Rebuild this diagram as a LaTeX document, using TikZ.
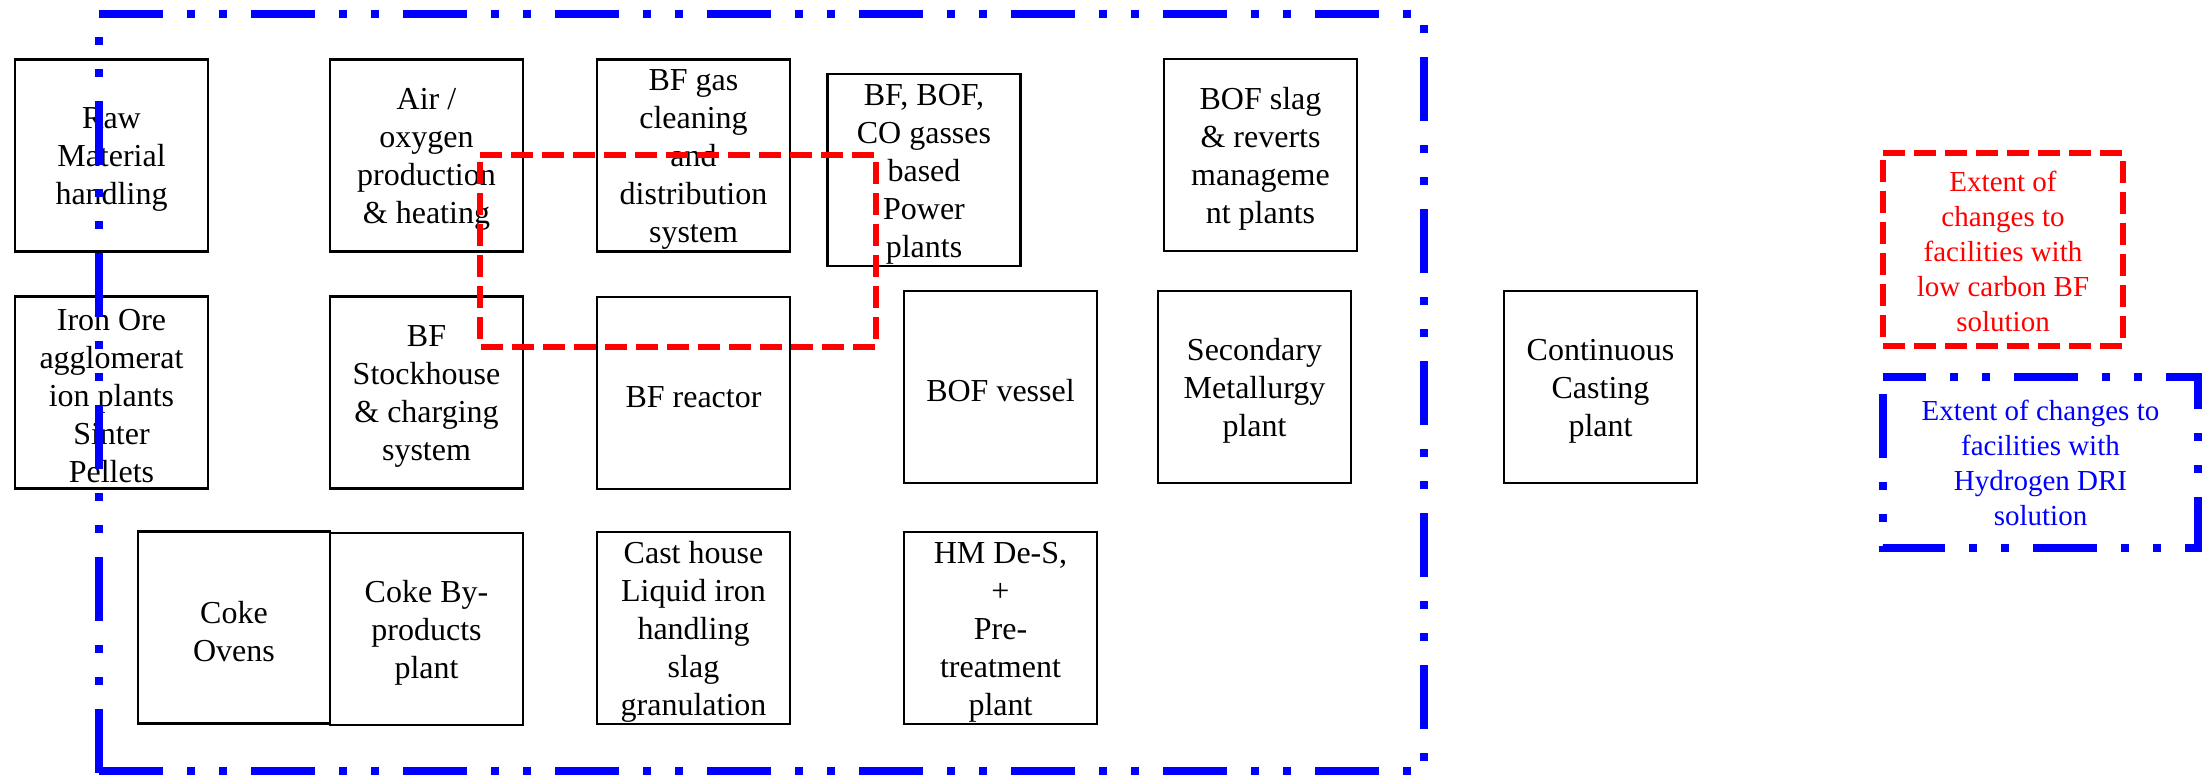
\documentclass[tikz,border=0pt]{standalone}
\usepackage{fontspec}
\setmainfont{Liberation Serif}
\begin{document}
\begin{tikzpicture}[x=1pt,y=-1pt,
  box/.style={draw=black, line width=2.5pt, inner sep=0pt,
    minimum width=193pt, minimum height=192pt},
  boxtext/.style={align=center, inner sep=0pt, font=\rmfamily\fontsize{32}{38}\selectfont},
  legtext/.style={align=center, inner sep=0pt, font=\rmfamily\fontsize{29}{35}\selectfont},
  hydro/.style={draw=blue, line width=7.5pt,
    dash pattern=on 64pt off 24pt on 8pt off 24pt on 8pt off 24pt, line join=miter},
  lowc/.style={draw=red, line width=6.5pt, dash pattern=on 22pt off 9pt, line join=miter}]
\useasboundingbox (0,0) rectangle (2208,776);

% process boxes
\node[box] (raw) at (111.5,155.5) {};
\node[box] (air) at (426.5,155.5) {};
\node[box] (bfgas) at (693.5,155.5) {};
\node[box] (bfbof) at (924,170) {};
\node[box] (bofslag) at (1260.5,155) {};
\node[box] (iron) at (111.5,392.5) {};
\node[box] (stock) at (426.5,392.5) {};
\node[box] (reactor) at (693.5,393) {};
\node[box] (bofv) at (1000.5,387) {};
\node[box] (secm) at (1254.5,387) {};
\node[box] (cc) at (1600.5,387) {};
\node[box, minimum width=192pt] (coke) at (234,627.5) {};
\node[box] (byprod) at (426.5,629) {};
\node[box] (cast) at (693.5,628) {};
\node[box] (hm) at (1000.5,628) {};

% box texts
\node[boxtext] (rawt) at ([yshift=-4pt]raw.center) {Raw\\Material\\handling};
\node[boxtext] (airt) at ([yshift=-4pt]air.center) {Air /\\oxygen\\production\\\& heating};
\node[boxtext] (bfgast) at ([yshift=-4pt]bfgas.center) {BF gas\\cleaning\\and\\distribution\\system};
\node[boxtext] (bfboft) at ([yshift=-4pt]bfbof.center) {BF, BOF,\\CO gasses\\based\\Power\\plants};
\node[boxtext] (bofslagt) at ([yshift=-4pt]bofslag.center) {BOF slag\\\& reverts\\manageme\\nt plants};
\node[boxtext] (iront) at ([yshift=-4pt]iron.center) {Iron Ore\\agglomerat\\ion plants\\Sinter\\Pellets};
\node[boxtext] (stockt) at ([yshift=-4pt]stock.center) {BF\\Stockhouse\\\& charging\\system};
\node[boxtext] (reactort) at ([yshift=-4pt]reactor.center) {BF reactor};
\node[boxtext] (bofvt) at ([yshift=-4pt]bofv.center) {BOF vessel};
\node[boxtext] (secmt) at ([yshift=-4pt]secm.center) {Secondary\\Metallurgy\\plant};
\node[boxtext] (cct) at ([yshift=-4pt]cc.center) {Continuous\\Casting\\plant};
\node[boxtext] (coket) at ([yshift=-4pt]coke.center) {Coke\\Ovens};
\node[boxtext] (byprodt) at ([yshift=-4pt]byprod.center) {Coke By-\\products\\plant};
\node[boxtext] (castt) at ([yshift=-4pt]cast.center) {Cast house\\Liquid iron\\handling\\slag\\granulation};
\node[boxtext] (hmt) at ([yshift=-4pt]hm.center) {HM De-S,\\+\\Pre-\\treatment\\plant};

% extent of changes, hydrogen DRI (blue dash-dot-dot)
\coordinate (htl) at (99,14);
\coordinate (htr) at (1424,14);
\coordinate (hbr) at (1424,771);
\coordinate (hbl) at (99,771);
\draw[hydro] (htl) -- (htr) -- (hbr);
\draw[hydro] (hbl) -- (hbr);
\draw[hydro, dash phase=65pt] (htl) -- ([yshift=-3.75pt]hbl);

% extent of changes, low carbon BF (red dashed)
\draw[lowc] (480,155) -- (876,155) -- (876,347) -- (480,347) -- cycle;

% legend
\draw[lowc] (1883,153) -- (2123,153) -- (2123,346) -- (1883,346) -- cycle;
\node[legtext, text=red] (legred) at (2003,251) {Extent of\\changes to\\facilities with\\low carbon BF\\solution};
\draw[hydro, dash phase=21pt] (1883,377) -- (2198,377) -- (2198,548) -- (1883,548) -- cycle;
\node[legtext, text=blue] (legblue) at (2040.5,463) {Extent of changes to\\facilities with\\Hydrogen DRI\\solution};
\end{tikzpicture}
\end{document}
